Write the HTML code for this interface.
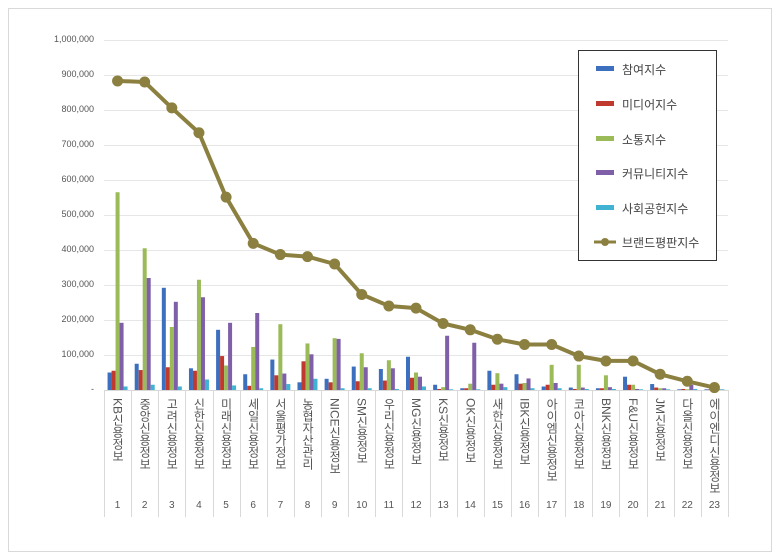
<!DOCTYPE html>
<html><head><meta charset="utf-8"><style>
body{margin:0;width:780px;height:559px;background:#fff;overflow:hidden;position:relative;font-family:"Liberation Sans","Noto Sans CJK KR",sans-serif;}
.lab{position:absolute;top:398px;writing-mode:vertical-rl;font-size:12px;color:#555;line-height:14px;letter-spacing:0px;}
.num{position:absolute;top:500px;font-size:10px;color:#555;width:27px;text-align:center;}
.yl{position:absolute;right:686px;font-size:9px;color:#555;}
.lg{position:absolute;left:622px;font-size:12px;color:#444;}
</style></head><body>
<svg width="780" height="559" style="position:absolute;left:0;top:0">
<rect x="8.5" y="8.5" width="763" height="543" fill="none" stroke="#d9d9d9"/>
<g stroke="#e6e6e6" stroke-width="1" id="grid"></g>
<g id="bars"></g>
<g id="vl" stroke="#d9d9d9"></g>
<polyline id="line" fill="none" stroke="#8c8040" stroke-width="4" stroke-linejoin="round"/>
<g id="mk" fill="#8c8040"></g>
<rect x="578.5" y="50.5" width="138" height="210" fill="#fff" stroke="#333"/>
<rect x="596" y="66" width="18" height="5" fill="#3d6fbf"/>
<rect x="596" y="101" width="18" height="5" fill="#c0392f"/>
<rect x="596" y="136" width="18" height="5" fill="#9bbb59"/>
<rect x="596" y="170" width="18" height="5" fill="#7f5fa8"/>
<rect x="596" y="205" width="18" height="5" fill="#3fb3d1"/>
<line x1="594" y1="242" x2="616" y2="242" stroke="#8c8040" stroke-width="3"/>
<circle cx="605" cy="242" r="4" fill="#8c8040"/>
</svg>
<div class="lg" style="top:61px">참여지수</div>
<div class="lg" style="top:96px">미디어지수</div>
<div class="lg" style="top:131px">소통지수</div>
<div class="lg" style="top:165px">커뮤니티지수</div>
<div class="lg" style="top:200px">사회공헌지수</div>
<div class="lg" style="top:234px">브랜드평판지수</div>
<div id="ext"></div>
<script>
var ns="http://www.w3.org/2000/svg";
function el(t,a,p){var e=document.createElementNS(ns,t);for(var k in a)e.setAttribute(k,a[k]);document.getElementById(p).appendChild(e);}
var x0=104,x1=728,W=(x1-x0)/23,Y0=390,S=0.00035;
var ext=document.getElementById('ext'),h='';
for(var i=0;i<=10;i++){var y=Y0-i*35;if(i>0)el('line',{x1:x0,x2:x1,y1:y+.5,y2:y+.5},'grid');
h+='<div class="yl" style="top:'+(y-6)+'px">'+(i==0?'-':(i*100000).toLocaleString('en-US'))+'</div>';}
var names=["KB신용정보","중앙신용정보","고려신용정보","신한신용정보","미래신용정보","세일신용정보","서울평가정보","농협자산관리","NICE신용정보","SM신용정보","우리신용정보","MG신용정보","KS신용정보","OK신용정보","새한신용정보","IBK신용정보","아이엠신용정보","코아신용정보","BNK신용정보","F&U신용정보","JM신용정보","다올신용정보","에이엔디신용정보"];
var brand=[883,880,806,735,551,419,387,381,360,273,240,234,190,172,145,130,130,97,83,83,45,25,7];
var d=[[50,55,565,192,10],[75,57,405,320,15],[292,65,180,252,10],[62,55,315,265,30],[172,97,70,192,13],[45,12,123,220,5],[87,42,188,47,17],[22,82,133,102,32],[32,22,148,146,5],[67,25,105,65,5],[60,27,85,62,3],[95,35,50,38,10],[15,3,8,155,2],[5,5,18,135,2],[55,15,48,18,8],[45,18,20,33,5],[10,15,72,20,5],[7,3,72,7,3],[5,5,42,8,3],[38,15,15,3,2],[17,7,5,5,2],[2,3,2,15,3],[2,2,2,2,2]];
var cols=["#3d6fbf","#c0392f","#9bbb59","#7f5fa8","#3fb3d1"];
var pts=[];
for(var c=0;c<23;c++){var cx=x0+W*(c+.5);
for(var s=0;s<5;s++){var v=d[c][s]*1000*S;el('rect',{x:cx-10+s*4,y:Y0-v,width:4,height:v,fill:cols[s]},'bars');}
el('line',{x1:Math.round(x0+W*c)+.5,x2:Math.round(x0+W*c)+.5,y1:Y0,y2:517},'vl');
var py=Y0-brand[c]*1000*S;pts.push(cx.toFixed(1)+','+py.toFixed(1));
el('circle',{cx:cx,cy:py,r:5.5},'mk');
h+='<div class="lab" style="left:'+(cx-7)+'px">'+names[c].replace('&','&amp;')+'</div>';
h+='<div class="num" style="left:'+(cx-13.5)+'px">'+(c+1)+'</div>';}
el('line',{x1:x1+.5,x2:x1+.5,y1:Y0,y2:517},'vl');
el('line',{x1:x0,x2:x1,y1:Y0+.5,y2:Y0+.5},'vl');
document.getElementById('line').setAttribute('points',pts.join(' '));
ext.innerHTML=h;
</script>
</body></html>
